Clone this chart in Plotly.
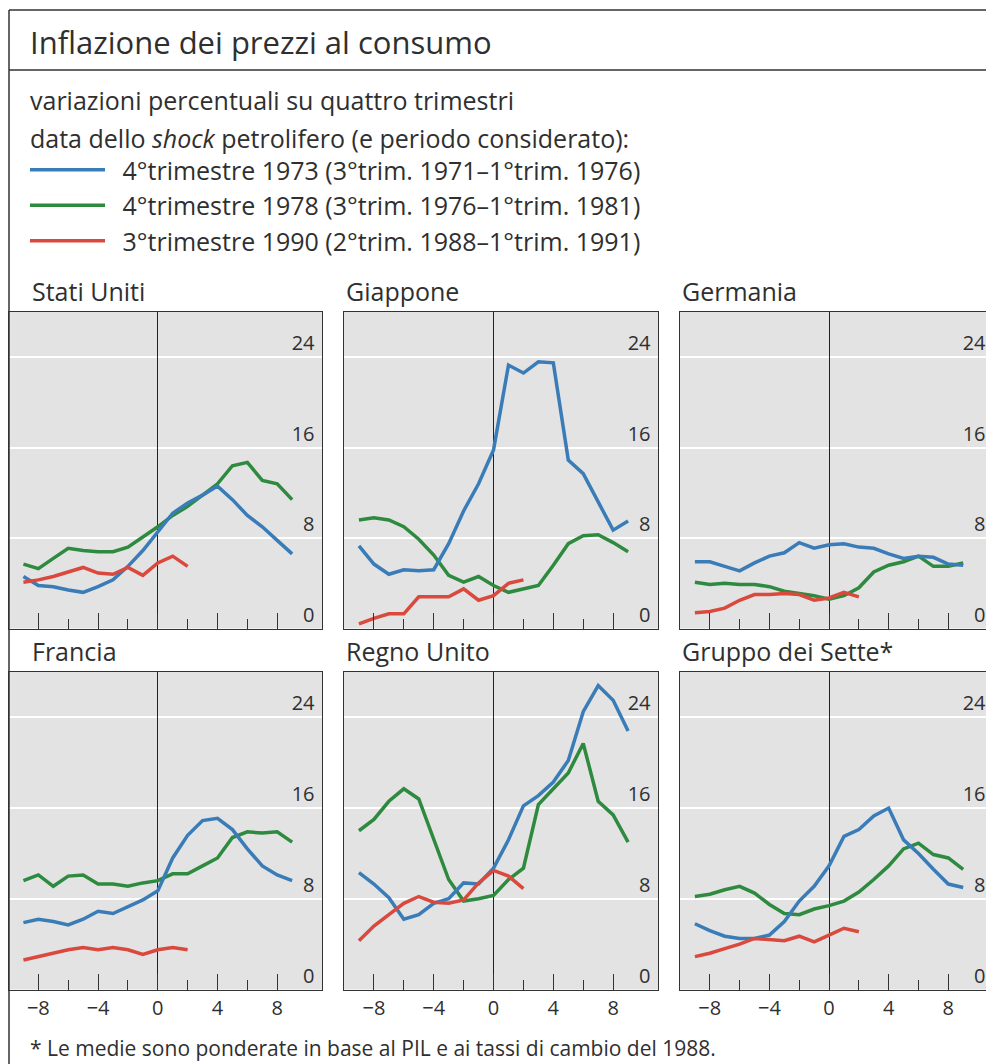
import plotly.graph_objects as go
from plotly.subplots import make_subplots

# ---------------- data ----------------
quarters = list(range(-9, 10))          # trimestri rispetto allo shock
quarters_1990 = list(range(-9, 3))

series_names = [
    "4°trimestre 1973 (3°trim. 1971–1°trim. 1976)",
    "4°trimestre 1978 (3°trim. 1976–1°trim. 1981)",
    "3°trimestre 1990 (2°trim. 1988–1°trim. 1991)",
]
series_colors = ["#3a7cb8", "#2e8a3f", "#d9493d"]

panel_titles = ["Stati Uniti", "Giappone", "Germania",
                "Francia", "Regno Unito", "Gruppo dei Sette*"]

us_1973 = [4.6, 3.8, 3.7, 3.4, 3.2, 3.7, 4.3, 5.5, 6.9, 8.6, 10.2, 11.1, 11.8, 12.6, 11.4, 10.0, 9.0, 7.8, 6.6]
us_1978 = [5.7, 5.3, 6.2, 7.1, 6.9, 6.8, 6.8, 7.2, 8.1, 9.0, 10.0, 10.8, 11.8, 12.8, 14.4, 14.7, 13.1, 12.8, 11.4]
us_1990 = [4.1, 4.3, 4.6, 5.0, 5.4, 4.9, 4.8, 5.4, 4.7, 5.8, 6.4, 5.5]

jp_1973 = [7.3, 5.7, 4.8, 5.2, 5.1, 5.2, 7.5, 10.4, 12.8, 15.8, 23.3, 22.6, 23.6, 23.5, 14.9, 13.7, 11.2, 8.7, 9.5]
jp_1978 = [9.6, 9.8, 9.6, 9.0, 7.9, 6.5, 4.7, 4.1, 4.6, 3.8, 3.2, 3.5, 3.8, 5.6, 7.5, 8.2, 8.3, 7.6, 6.8]
jp_1990 = [0.4, 0.9, 1.3, 1.3, 2.8, 2.8, 2.8, 3.5, 2.5, 2.9, 4.0, 4.3]

de_1973 = [5.9, 5.9, 5.5, 5.1, 5.8, 6.4, 6.7, 7.6, 7.1, 7.4, 7.5, 7.2, 7.1, 6.6, 6.2, 6.4, 6.3, 5.7, 5.6]
de_1978 = [4.1, 3.9, 4.0, 3.9, 3.9, 3.7, 3.3, 3.1, 2.9, 2.6, 2.9, 3.6, 5.0, 5.6, 5.9, 6.4, 5.5, 5.5, 5.8]
de_1990 = [1.4, 1.5, 1.8, 2.5, 3.0, 3.0, 3.1, 3.0, 2.5, 2.7, 3.2, 2.8]

fr_1973 = [5.9, 6.2, 6.0, 5.7, 6.2, 6.9, 6.7, 7.3, 7.9, 8.7, 11.6, 13.6, 14.9, 15.1, 14.1, 12.4, 10.9, 10.1, 9.6]
fr_1978 = [9.6, 10.1, 9.1, 10.0, 10.1, 9.3, 9.3, 9.1, 9.4, 9.6, 10.2, 10.2, 10.9, 11.6, 13.4, 13.9, 13.8, 13.9, 13.0]
fr_1990 = [2.6, 2.9, 3.2, 3.5, 3.7, 3.5, 3.7, 3.5, 3.1, 3.5, 3.7, 3.5]

uk_1973 = [10.3, 9.3, 8.1, 6.2, 6.6, 7.6, 8.0, 9.4, 9.3, 10.7, 13.2, 16.2, 17.1, 18.3, 20.2, 24.5, 26.8, 25.5, 22.8]
uk_1978 = [14.0, 15.0, 16.6, 17.7, 16.8, 13.2, 9.7, 7.8, 8.0, 8.3, 9.7, 10.7, 16.3, 17.7, 19.1, 21.7, 16.6, 15.4, 13.0]
uk_1990 = [4.3, 5.6, 6.6, 7.6, 8.2, 7.7, 7.6, 7.9, 9.4, 10.5, 10.0, 8.9]

g7_1973 = [5.8, 5.2, 4.7, 4.5, 4.5, 4.8, 6.0, 7.8, 9.1, 10.9, 13.5, 14.1, 15.3, 16.0, 13.2, 12.0, 10.6, 9.3, 9.0]
g7_1978 = [8.2, 8.4, 8.8, 9.1, 8.5, 7.5, 6.7, 6.6, 7.1, 7.4, 7.8, 8.6, 9.7, 10.9, 12.4, 12.9, 11.9, 11.6, 10.6]
g7_1990 = [2.9, 3.2, 3.6, 4.0, 4.5, 4.4, 4.3, 4.7, 4.2, 4.8, 5.4, 5.1]

y_ticks = [0, 8, 16, 24]
x_major = [-8, -4, 0, 4, 8]
x_major_text = ["−8", "−4", "0", "4", "8"]
x_minor = [-6, -2, 2, 6]

panel_data = [
    [us_1973, us_1978, us_1990],
    [jp_1973, jp_1978, jp_1990],
    [de_1973, de_1978, de_1990],
    [fr_1973, fr_1978, fr_1990],
    [uk_1973, uk_1978, uk_1990],
    [g7_1973, g7_1978, g7_1990],
]

# ---------------- layout helpers ----------------
OFF = 8                      # page body margin in the browser
W, H = 994 - OFF, 1064 - OFF
FONT = "Open Sans"
TXT = "#2f2f2f"


def px_x(p):
    return (p - OFF) / W


def px_y(p):
    return 1 - (p - OFF) / H


col_px = [(8.5, 322), (344, 658), (680, 993)]
row_px = [(312, 628.5), (672, 989.5)]
title_x_px = [30, 344, 680]
title_y_px = [291, 651]

fig = make_subplots(rows=2, cols=3)

for i, data in enumerate(panel_data):
    r, c = divmod(i, 3)
    for k in [1, 0, 2]:
        xs = quarters if k < 2 else quarters_1990
        fig.add_trace(
            go.Scatter(
                x=xs, y=data[k], mode="lines",
                line=dict(color=series_colors[k], width=3.5),
                name="\u2002" + series_names[k], legendgroup=f"s{k}",
                legendrank=k + 1, showlegend=(i == 0),
                hoverinfo="skip",
            ),
            row=r + 1, col=c + 1,
        )

for i in range(6):
    r, c = divmod(i, 3)
    sfx = "" if i == 0 else str(i + 1)
    x0, x1 = col_px[c]
    y0, y1 = row_px[r]
    fig.layout["xaxis" + sfx].update(
        domain=[px_x(x0), px_x(x1)], range=[-10, 11],
        tickvals=x_major, ticktext=x_major_text,
        ticks="inside", ticklen=16, tickwidth=1, tickcolor="#333",
        minor=dict(tickvals=x_minor, ticks="inside", ticklen=10,
                   tickwidth=1, tickcolor="#333", showgrid=False),
        showticklabels=(r == 1), tickfont=dict(family=FONT, size=20, color=TXT),
        showgrid=False, zeroline=True, zerolinecolor="#222", zerolinewidth=1,
        showline=True, mirror=True, linecolor="#333", linewidth=1,
    )
    fig.layout["yaxis" + sfx].update(
        domain=[px_y(y1), px_y(y0)], range=[0, 28],
        tickvals=y_ticks, side="right", ticklabelposition="inside top",
        ticklabelstandoff=8,
        ticks="", tickfont=dict(family=FONT, size=20, color=TXT),
        showgrid=True, gridcolor="white", gridwidth=2,
        zeroline=False, showline=True, mirror=True,
        linecolor="#333", linewidth=1,
    )

annotations = []
for i, t in enumerate(panel_titles):
    r, c = divmod(i, 3)
    annotations.append(dict(
        text=t, xref="paper", yref="paper",
        x=px_x(title_x_px[c]), y=px_y(title_y_px[r]),
        xanchor="left", yanchor="middle", showarrow=False,
        font=dict(family=FONT, size=25, color=TXT),
    ))

annotations += [
    dict(text="Inflazione dei prezzi al consumo", xref="paper", yref="paper",
         x=px_x(28), y=px_y(42), xanchor="left", yanchor="middle",
         showarrow=False, font=dict(family=FONT, size=31, color=TXT)),
    dict(text="variazioni percentuali su quattro trimestri", xref="paper", yref="paper",
         x=px_x(28), y=px_y(100), xanchor="left", yanchor="middle",
         showarrow=False, font=dict(family=FONT, size=25, color=TXT)),
    dict(text="data dello <i>shock</i> petrolifero (e periodo considerato):",
         xref="paper", yref="paper",
         x=px_x(28), y=px_y(138), xanchor="left", yanchor="middle",
         showarrow=False, font=dict(family=FONT, size=25, color=TXT)),
    dict(text="* Le medie sono ponderate in base al PIL e ai tassi di cambio del 1988.",
         xref="paper", yref="paper",
         x=px_x(28), y=px_y(1048), xanchor="left", yanchor="middle",
         showarrow=False, font=dict(family=FONT, size=21, color=TXT)),
]

frame = dict(color="#333", width=1.5)
shapes = [
    dict(type="line", xref="paper", yref="paper", x0=px_x(9), x1=1, y0=px_y(10), y1=px_y(10), line=frame),
    dict(type="line", xref="paper", yref="paper", x0=px_x(9), x1=1, y0=px_y(70), y1=px_y(70), line=frame),
    dict(type="line", xref="paper", yref="paper", x0=px_x(9), x1=px_x(9), y0=px_y(10), y1=0, line=frame),
]

fig.update_layout(
    width=W, height=H, margin=dict(l=0, r=0, t=0, b=0),
    paper_bgcolor="white", plot_bgcolor="#e3e3e3",
    font=dict(family=FONT, color=TXT),
    annotations=annotations, shapes=shapes,
    showlegend=True,
    legend=dict(
        x=px_x(25), y=px_y(147), xanchor="left", yanchor="top",
        font=dict(family=FONT, size=25, color=TXT),
        itemwidth=75, tracegroupgap=0, bgcolor="rgba(0,0,0,0)",
        traceorder="normal",
    ),
)

fig.write_html("out.html")
